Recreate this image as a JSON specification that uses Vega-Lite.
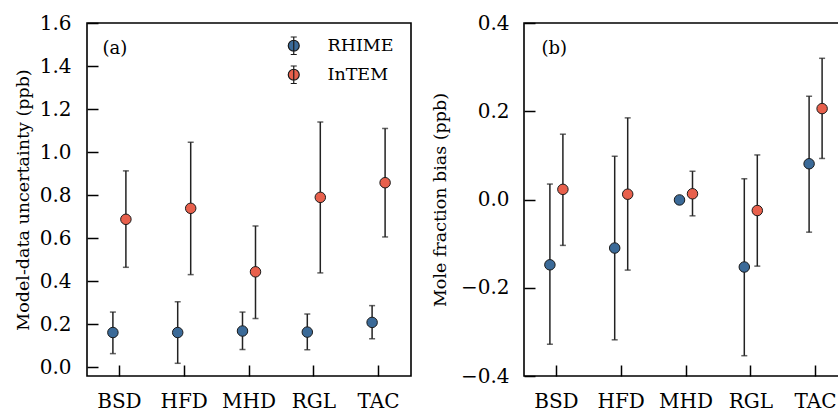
{
  "$schema": "https://vega.github.io/schema/vega-lite/v6.json",
  "padding": {"left": 13, "top": 12, "right": 0, "bottom": 0},
  "background": "white",
  "spacing": 18,
  "config": {
    "font": "DejaVu Serif",
    "view": {"stroke": "#000000", "strokeWidth": 1.6},
    "axis": {
      "domain": false,
      "grid": false,
      "ticks": true,
      "offset": -11,
      "zindex": 1,
      "labelFont": "DejaVu Serif",
      "labelFontSize": 20,
      "labelColor": "#000000",
      "tickColor": "#000000",
      "tickSize": 11,
      "tickWidth": 1.5,
      "titleFont": "DejaVu Serif",
      "titleFontSize": 17.5,
      "titleFontWeight": "normal",
      "titleColor": "#000000"
    }
  },
  "datasets": {
    "unc": [
      {"site": "BSD", "model": "RHIME", "value": 0.162, "lo": 0.064, "hi": 0.257},
      {"site": "BSD", "model": "InTEM", "value": 0.688, "lo": 0.465, "hi": 0.913},
      {"site": "HFD", "model": "RHIME", "value": 0.162, "lo": 0.019, "hi": 0.305},
      {"site": "HFD", "model": "InTEM", "value": 0.739, "lo": 0.431, "hi": 1.046},
      {"site": "MHD", "model": "RHIME", "value": 0.169, "lo": 0.083, "hi": 0.257},
      {"site": "MHD", "model": "InTEM", "value": 0.444, "lo": 0.227, "hi": 0.657},
      {"site": "RGL", "model": "RHIME", "value": 0.164, "lo": 0.082, "hi": 0.248},
      {"site": "RGL", "model": "InTEM", "value": 0.790, "lo": 0.439, "hi": 1.140},
      {"site": "TAC", "model": "RHIME", "value": 0.209, "lo": 0.133, "hi": 0.287},
      {"site": "TAC", "model": "InTEM", "value": 0.858, "lo": 0.606, "hi": 1.110}
    ],
    "bias": [
      {"site": "BSD", "model": "RHIME", "value": -0.148, "lo": -0.328, "hi": 0.035},
      {"site": "BSD", "model": "InTEM", "value": 0.023, "lo": -0.104, "hi": 0.148},
      {"site": "HFD", "model": "RHIME", "value": -0.110, "lo": -0.318, "hi": 0.098},
      {"site": "HFD", "model": "InTEM", "value": 0.012, "lo": -0.160, "hi": 0.185},
      {"site": "MHD", "model": "RHIME", "value": -0.001, "lo": -0.004, "hi": 0.002},
      {"site": "MHD", "model": "InTEM", "value": 0.013, "lo": -0.037, "hi": 0.064},
      {"site": "RGL", "model": "RHIME", "value": -0.153, "lo": -0.354, "hi": 0.047},
      {"site": "RGL", "model": "InTEM", "value": -0.025, "lo": -0.151, "hi": 0.101},
      {"site": "TAC", "model": "RHIME", "value": 0.081, "lo": -0.074, "hi": 0.234},
      {"site": "TAC", "model": "InTEM", "value": 0.206, "lo": 0.093, "hi": 0.320}
    ],
    "labels_a": [{"label": "(a)", "site": "BSD", "y": 1.478}],
    "labels_b": [{"label": "(b)", "site": "BSD", "y": 0.342}]
  },
  "resolve": {"scale": {"fill": "independent"}, "legend": {"fill": "independent"}},
  "hconcat": [
    {
      "width": 324,
      "height": 353,
      "data": {"name": "unc"},
      "encoding": {
        "x": {"field": "site", "type": "nominal", "title": null,
              "scale": {"paddingInner": 0, "paddingOuter": 0},
              "axis": {"labelAngle": 0, "labelPadding": 15}},
        "xOffset": {"field": "model", "type": "nominal",
                    "scale": {"type": "point", "domain": ["RHIME", "InTEM"], "range": [25.9, 38.9], "padding": 0}}
      },
      "layer": [
        {
          "mark": {"type": "rule", "color": "#222222", "strokeWidth": 1.5},
          "encoding": {
            "y": {"field": "lo", "type": "quantitative",
                  "scale": {"domain": [-0.04, 1.6], "nice": false, "zero": false},
                  "axis": {"values": [0, 0.2, 0.4, 0.6, 0.8, 1.0, 1.2, 1.4, 1.6], "format": ".1f", "labelPadding": 16, "titlePadding": 7},
                  "title": "Model-data uncertainty (ppb)"},
            "y2": {"field": "hi"}
          }
        },
        {
          "mark": {"type": "tick", "color": "#222222", "size": 6, "thickness": 1.5},
          "encoding": {"y": {"field": "lo", "type": "quantitative"}}
        },
        {
          "mark": {"type": "tick", "color": "#222222", "size": 6, "thickness": 1.5},
          "encoding": {"y": {"field": "hi", "type": "quantitative"}}
        },
        {
          "mark": {"type": "point", "filled": true, "size": 110, "opacity": 1, "stroke": "#1a1a1a", "strokeWidth": 1, "shape": "circle"},
          "encoding": {
            "y": {"field": "value", "type": "quantitative"},
            "fill": {"field": "model", "type": "nominal",
                     "scale": {"domain": ["RHIME", "InTEM"], "range": ["#3b6a98", "#e8604c"]},
                     "legend": {"title": null, "orient": "none", "legendX": 198, "legendY": 14,
                                "symbolType": "M0,-1.6L0,1.6M-0.55,-1.6L0.55,-1.6M-0.55,1.6L0.55,1.6M1,0A1,1,0,1,1,-1,0A1,1,0,1,1,1,0Z",
                                "symbolSize": 120, "symbolStrokeColor": "#1a1a1a", "symbolStrokeWidth": 1.2,
                                "symbolOpacity": 1, "labelFont": "DejaVu Serif", "labelFontSize": 17.5, "labelColor": "#000000",
                                "labelOffset": 25, "rowPadding": 6, "padding": 0}}
          }
        },
        {
          "data": {"name": "labels_a"},
          "mark": {"type": "text", "align": "left", "baseline": "middle", "fontSize": 18, "font": "DejaVu Serif", "dx": -17, "color": "#000000"},
          "encoding": {
            "x": {"field": "site", "type": "nominal"},
            "xOffset": null,
            "y": {"field": "y", "type": "quantitative"},
            "text": {"field": "label"}
          }
        }
      ]
    },
    {
      "width": 324,
      "height": 353,
      "data": {"name": "bias"},
      "encoding": {
        "x": {"field": "site", "type": "nominal", "title": null,
              "scale": {"paddingInner": 0, "paddingOuter": 0},
              "axis": {"labelAngle": 0, "labelPadding": 15}},
        "xOffset": {"field": "model", "type": "nominal",
                    "scale": {"type": "point", "domain": ["RHIME", "InTEM"], "range": [25.9, 38.9], "padding": 0}}
      },
      "layer": [
        {
          "mark": {"type": "rule", "color": "#222222", "strokeWidth": 1.5},
          "encoding": {
            "y": {"field": "lo", "type": "quantitative",
                  "scale": {"domain": [-0.4, 0.4], "nice": false, "zero": false},
                  "axis": {"values": [-0.4, -0.2, 0, 0.2, 0.4], "format": ".1f", "labelPadding": 15, "titlePadding": 11},
                  "title": "Mole fraction bias (ppb)"},
            "y2": {"field": "hi"}
          }
        },
        {
          "mark": {"type": "tick", "color": "#222222", "size": 6, "thickness": 1.5},
          "encoding": {"y": {"field": "lo", "type": "quantitative"}}
        },
        {
          "mark": {"type": "tick", "color": "#222222", "size": 6, "thickness": 1.5},
          "encoding": {"y": {"field": "hi", "type": "quantitative"}}
        },
        {
          "mark": {"type": "point", "filled": true, "size": 110, "opacity": 1, "stroke": "#1a1a1a", "strokeWidth": 1, "shape": "circle"},
          "encoding": {
            "y": {"field": "value", "type": "quantitative"},
            "fill": {"field": "model", "type": "nominal",
                     "scale": {"domain": ["RHIME", "InTEM"], "range": ["#3b6a98", "#e8604c"]},
                     "legend": null}
          }
        },
        {
          "data": {"name": "labels_b"},
          "mark": {"type": "text", "align": "left", "baseline": "middle", "fontSize": 18, "font": "DejaVu Serif", "dx": -15, "color": "#000000"},
          "encoding": {
            "x": {"field": "site", "type": "nominal"},
            "xOffset": null,
            "y": {"field": "y", "type": "quantitative"},
            "text": {"field": "label"}
          }
        }
      ]
    }
  ]
}
